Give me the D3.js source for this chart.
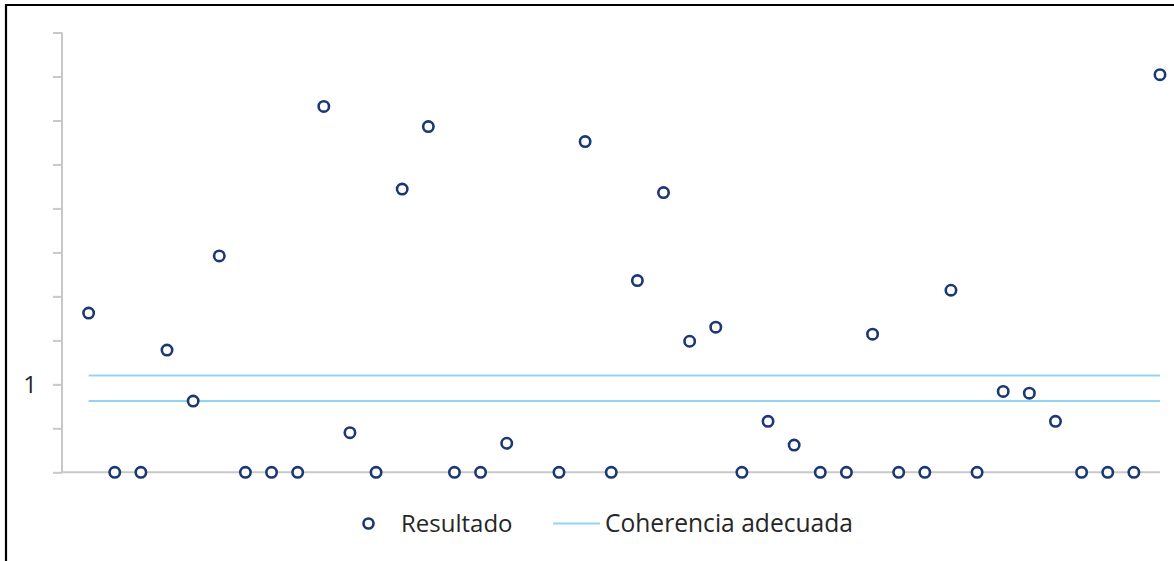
<!DOCTYPE html>
<html>
<head>
<meta charset="utf-8">
<script src="https://cdn.jsdelivr.net/npm/d3@7"></script>
<style>
  html, body { margin: 0; padding: 0; background: #fff; }
  svg { display: block; }
  text { font-family: "Open Sans", "Noto Sans", sans-serif; }
</style>
</head>
<body>
<svg id="chart" width="1174" height="561"></svg>
<script>
// ---- data ----
const categories = d3.range(0, 43).map(String); // category 0 is an empty slot
const resultado = [null,
  1.81, 0, 0, 1.39, 0.81, 2.46, 0, 0, 0, 4.16,
  0.45, 0, 3.22, 3.93, 0, 0, 0.33, null, 0, 3.76,
  0, 2.18, 3.18, 1.49, 1.65, 0, 0.58, 0.31, 0, 0,
  1.57, 0, 0, 2.07, 0, 0.92, 0.90, 0.58, 0, 0,
  0, 4.52];
const coherenciaLimits = [0.81, 1.1];
const yTicks = [0, 0.5, 1, 1.5, 2, 2.5, 3, 3.5, 4, 4.5, 5];
const yTickLabels = {"1": "1"};
const legendLabels = ["Resultado", "Coherencia adecuada"];

// ---- layout ----
const svg = d3.select("#chart");
const W = 1174, H = 561;
const x = d3.scalePoint().domain(categories).range([62.5, 1160]);
const y = d3.scaleLinear().domain([0, 5]).range([472.3, 32.5]);

const navy = "#1c3872";
const lightBlue = "#92d5f3";
const axisGrey = "#c8c8c8";

// border (partially visible frame)
svg.append("path")
  .attr("d", `M6,${H + 5} V5 H${W + 5}`)
  .attr("fill", "none").attr("stroke", "#000").attr("stroke-width", 2.2);

// y axis
const yAxis = d3.axisLeft(y).tickValues(yTicks)
  .tickSize(9).tickPadding(16)
  .tickFormat(d => yTickLabels[String(d)] || "");
const gy = svg.append("g").attr("transform", "translate(62,0)").call(yAxis);
gy.select(".domain").attr("stroke", axisGrey).attr("stroke-width", 2)
  .attr("d", `M0,${y(5)}V${y(0)}`);
gy.selectAll(".tick line").attr("stroke", axisGrey).attr("stroke-width", 2);
gy.selectAll(".tick text").attr("fill", "#262626")
  .style("font-size", "24px").attr("dy", "0.36em");

// x axis (no labels)
const xAxis = d3.axisBottom(x).tickSize(0).tickFormat("");
const gx = svg.append("g").attr("transform", `translate(0,${y(0)})`).call(xAxis);
gx.select(".domain").attr("stroke", axisGrey).attr("stroke-width", 2)
  .attr("d", `M62,0H${x(categories[categories.length - 1])}`);

// coherence lines
const lineCats = categories.slice(1);
const lineGen = d3.line().x(d => x(d[0])).y(d => y(d[1]));
coherenciaLimits.forEach(v => {
  svg.append("path")
    .datum(lineCats.map(c => [c, v]))
    .attr("d", lineGen)
    .attr("fill", "none").attr("stroke", lightBlue).attr("stroke-width", 2);
});

// points
svg.append("g").selectAll("circle")
  .data(categories.map((c, i) => ({c, v: resultado[i]})).filter(d => d.v !== null))
  .join("circle")
  .attr("cx", d => x(d.c)).attr("cy", d => y(d.v)).attr("r", 5.2)
  .attr("fill", "#fff").attr("stroke", navy).attr("stroke-width", 2.6);

// legend
const lg = svg.append("g");
lg.append("circle").attr("cx", 368.5).attr("cy", 523.5).attr("r", 5)
  .attr("fill", "#fff").attr("stroke", navy).attr("stroke-width", 2.6);
lg.append("text").attr("x", 401).attr("y", 532).attr("fill", "#262626")
  .style("font-size", "24px").text(legendLabels[0]);
lg.append("line").attr("x1", 553).attr("x2", 600).attr("y1", 523.5).attr("y2", 523.5)
  .attr("stroke", lightBlue).attr("stroke-width", 2);
lg.append("text").attr("x", 605).attr("y", 532).attr("fill", "#262626")
  .style("font-size", "24.6px").text(legendLabels[1]);
</script>
</body>
</html>
